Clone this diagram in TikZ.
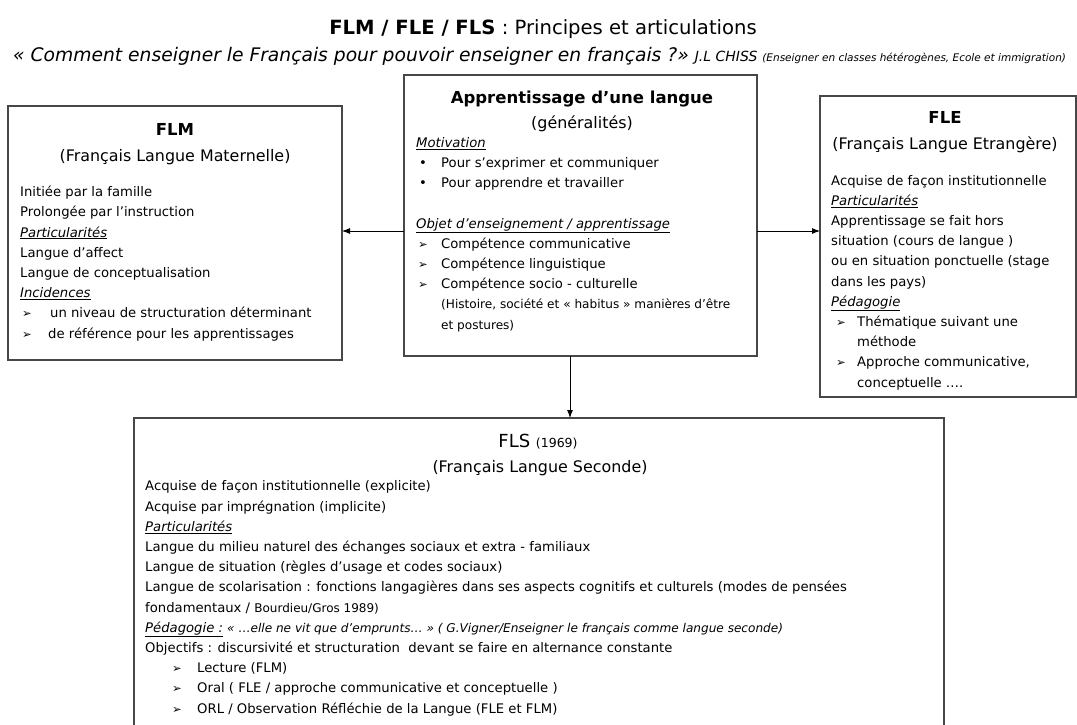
\documentclass[tikz,border=0pt]{standalone}
\usepackage{fontspec}
\setmainfont{DejaVu Sans}
\usetikzlibrary{arrows.meta}
\newcommand\uit[1]{\underline{\textit{#1}}}
\newcommand\arw{\fontsize{11.5}{10}\selectfont ➢}
\begin{document}
\begin{tikzpicture}[x=1pt,y=-1pt,
  box/.style={draw=black!72,line width=1.3pt,inner sep=0,outer sep=0,anchor=north west},
  txt/.style={inner sep=0,anchor=base west,align=left,font=\fontsize{13.2}{20.2}\selectfont},
  head/.style={inner sep=0,anchor=base,font=\fontsize{16.5}{16}\selectfont\bfseries},
  sub/.style={inner sep=0,anchor=base,font=\fontsize{15.9}{15}\selectfont},
  arr/.style={-{Latex[length=8pt,width=6pt]},line width=0.9pt,black}]
\clip (0,0) rectangle (1077,724);
\fill[white] (0,0) rectangle (1077,724);
% titles
\node[inner sep=0,anchor=base] (t1) at (543,34) {\fontsize{19.6}{19}\selectfont\textbf{FLM / FLE / FLS} : Principes et articulations};
\node[inner sep=0,anchor=base west] (t2) at (13,61) {\fontsize{18.7}{18}\selectfont\textit{« Comment enseigner le Français pour pouvoir enseigner en français ?»}\hspace{6pt}{\fontsize{14}{12}\selectfont\textit{J.L CHISS}}\hspace{5pt}{\fontsize{10.5}{9}\selectfont\textit{(Enseigner en classes hétérogènes, Ecole et immigration)}}};
% boxes
\node[box,minimum width=334pt,minimum height=254pt] (flm) at (8,106) {};
\node[box,minimum width=353pt,minimum height=281pt] (app) at (404,75) {};
\node[box,minimum width=256pt,minimum height=301pt] (fle) at (820,96) {};
\node[box,minimum width=810pt,minimum height=330pt] (fls) at (134,418) {};
% arrows
\coordinate (ylev) at (0,231);
\coordinate (xlev) at (570,0);
\draw[arr] (app.west |- ylev) -- (flm.east |- ylev);
\draw[arr] (app.east |- ylev) -- (fle.west |- ylev);
\draw[arr] (app.south -| xlev) -- (fls.north -| xlev);
% FLM
\node[head] (flmh) at (175,135) {FLM};
\node[sub] (flms) at (175,161) {(Français Langue Maternelle)};
\node[txt] (flmt) at (20,338) {Initiée par la famille\\
Prolongée par l’instruction\\
\uit{Particularités}\\
Langue d’affect\\
Langue de conceptualisation\\
\uit{Incidences}\\
\hspace{2pt}\makebox[28pt][l]{\arw}un niveau de structuration déterminant\\
\hspace{2pt}\makebox[26pt][l]{\arw}de référence pour les apprentissages};
% Apprentissage
\node[head] (apph) at (582,103) {Apprentissage d’une langue};
\node[sub] (apps) at (582,128) {(généralités)};
\node[txt] (appt) at (416,329) {\uit{Motivation}\\
\hspace{3pt}\makebox[22pt][l]{•}Pour s’exprimer et communiquer\\
\hspace{3pt}\makebox[22pt][l]{•}Pour apprendre et travailler\\[20.2pt]
\uit{Objet d’enseignement / apprentissage}\\
\hspace{2pt}\makebox[23pt][l]{\arw}Compétence communicative\\
\hspace{2pt}\makebox[23pt][l]{\arw}Compétence linguistique\\
\hspace{2pt}\makebox[23pt][l]{\arw}Compétence socio - culturelle\\
\hspace{25pt}{\fontsize{12.1}{12}\selectfont (Histoire, société et « habitus » manières d’être}\\
\hspace{25pt}{\fontsize{12.1}{12}\selectfont et postures)}};
% FLE
\node[head] (fleh) at (945,123) {FLE};
\node[sub] (fles) at (945,149) {(Français Langue Etrangère)};
\node[txt] (flet) at (831,387) {Acquise de façon institutionnelle\\
\uit{Particularités}\\
Apprentissage se fait hors\\
situation (cours de langue )\\
ou en situation ponctuelle (stage\\
dans les pays)\\
\uit{Pédagogie}\\
\hspace{5pt}\makebox[21pt][l]{\arw}Thématique suivant une\\
\hspace{26pt}méthode\\
\hspace{5pt}\makebox[21pt][l]{\arw}Approche communicative,\\
\hspace{26pt}conceptuelle ….};
% FLS
\node[inner sep=0,anchor=base] (flsh) at (538,447) {\fontsize{18}{17}\selectfont FLS {\fontsize{12.5}{12}\selectfont (1969)}};
\node[sub] (flss) at (540,472) {(Français Langue Seconde)};
\node[txt] (flst) at (145,713) {Acquise de façon institutionnelle (explicite)\\
Acquise par imprégnation (implicite)\\
\uit{Particularités}\\
Langue du milieu naturel des échanges sociaux et extra - familiaux\\
Langue de situation (règles d’usage et codes sociaux)\\
Langue de scolarisation : fonctions langagières dans ses aspects cognitifs et culturels (modes de pensées\\
fondamentaux / {\fontsize{12}{12}\selectfont Bourdieu/Gros 1989)}\\
\uit{Pédagogie :} {\fontsize{12.1}{12}\selectfont\itshape « …elle ne vit que d’emprunts… » ( G.Vigner/Enseigner le français comme langue seconde)}\\
Objectifs : discursivité et structuration\ \ devant se faire en alternance constante\\
\hspace{27pt}\makebox[25pt][l]{\arw}Lecture (FLM)\\
\hspace{27pt}\makebox[25pt][l]{\arw}Oral ( FLE / approche communicative et conceptuelle )\\
\hspace{27pt}\makebox[25pt][l]{\arw}ORL / Observation Réfléchie de la Langue (FLE et FLM)};
\end{tikzpicture}
\end{document}
